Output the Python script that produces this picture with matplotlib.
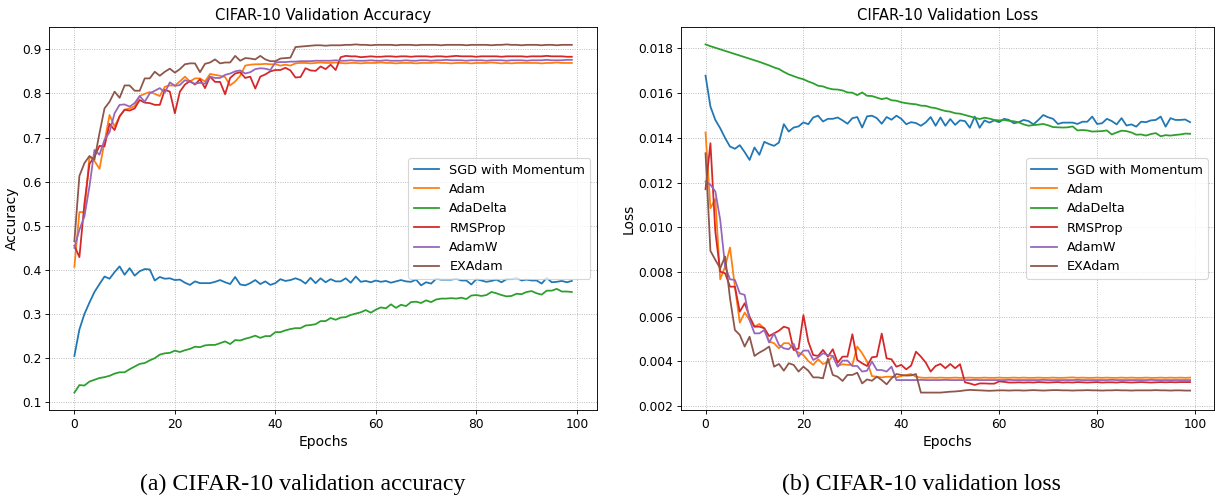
import matplotlib
matplotlib.use("Agg")
import matplotlib.pyplot as plt
import numpy as np

epochs = list(range(100))
labels = ["SGD with Momentum", "Adam", "AdaDelta", "RMSProp", "AdamW", "EXAdam"]

acc_sgd = [0.205, 0.265, 0.300, 0.326, 0.350, 0.368, 0.385, 0.380, 0.395, 0.408,
           0.389, 0.404, 0.387, 0.397, 0.402, 0.401, 0.376, 0.384, 0.380, 0.381,
           0.377, 0.378, 0.371, 0.366, 0.374, 0.370, 0.370, 0.370, 0.373, 0.377,
           0.372, 0.368, 0.384, 0.367, 0.365, 0.370, 0.377, 0.368, 0.374, 0.366,
           0.370, 0.379, 0.375, 0.377, 0.381, 0.377, 0.369, 0.382, 0.370, 0.381,
           0.372, 0.379, 0.374, 0.374, 0.381, 0.371, 0.385, 0.373, 0.375, 0.372,
           0.376, 0.373, 0.375, 0.371, 0.374, 0.377, 0.374, 0.373, 0.378, 0.365,
           0.372, 0.369, 0.380, 0.378, 0.378, 0.378, 0.380, 0.376, 0.376, 0.367,
           0.379, 0.376, 0.373, 0.375, 0.378, 0.372, 0.379, 0.379, 0.382, 0.376,
           0.378, 0.376, 0.376, 0.369, 0.382, 0.372, 0.373, 0.375, 0.372, 0.375]
acc_adam = [0.407, 0.531, 0.531, 0.657, 0.647, 0.629, 0.690, 0.751, 0.725, 0.748,
            0.763, 0.766, 0.771, 0.794, 0.799, 0.803, 0.799, 0.794, 0.815, 0.818,
            0.818, 0.827, 0.838, 0.827, 0.834, 0.834, 0.827, 0.844, 0.842, 0.840,
            0.837, 0.818, 0.827, 0.840, 0.863, 0.865, 0.866, 0.866, 0.867, 0.866,
            0.866, 0.863, 0.865, 0.863, 0.868, 0.869, 0.869, 0.868, 0.869, 0.870,
            0.869, 0.869, 0.870, 0.869, 0.868, 0.869, 0.869, 0.868, 0.869, 0.869,
            0.869, 0.870, 0.869, 0.869, 0.868, 0.869, 0.869, 0.869, 0.868, 0.869,
            0.869, 0.869, 0.870, 0.869, 0.869, 0.868, 0.869, 0.869, 0.869, 0.868,
            0.869, 0.869, 0.869, 0.870, 0.869, 0.868, 0.869, 0.868, 0.869, 0.869,
            0.869, 0.869, 0.869, 0.868, 0.869, 0.869, 0.870, 0.869, 0.869, 0.869]
acc_adadelta = [0.122, 0.139, 0.138, 0.147, 0.151, 0.155, 0.157, 0.160, 0.165, 0.168,
                0.168, 0.175, 0.181, 0.187, 0.189, 0.195, 0.200, 0.208, 0.211, 0.212,
                0.217, 0.214, 0.218, 0.221, 0.226, 0.225, 0.229, 0.230, 0.230, 0.234,
                0.238, 0.232, 0.241, 0.240, 0.244, 0.247, 0.251, 0.246, 0.250, 0.250,
                0.259, 0.259, 0.263, 0.266, 0.268, 0.268, 0.274, 0.275, 0.277, 0.284,
                0.284, 0.291, 0.287, 0.292, 0.293, 0.298, 0.301, 0.304, 0.309, 0.303,
                0.310, 0.315, 0.313, 0.322, 0.314, 0.321, 0.318, 0.327, 0.328, 0.325,
                0.331, 0.327, 0.333, 0.335, 0.335, 0.336, 0.335, 0.337, 0.334, 0.342,
                0.343, 0.341, 0.343, 0.350, 0.347, 0.343, 0.340, 0.341, 0.346, 0.345,
                0.350, 0.352, 0.347, 0.344, 0.353, 0.353, 0.357, 0.351, 0.351, 0.350]
acc_rmsprop = [0.455, 0.429, 0.550, 0.640, 0.657, 0.681, 0.680, 0.731, 0.717, 0.748,
               0.763, 0.761, 0.766, 0.785, 0.779, 0.778, 0.774, 0.774, 0.808, 0.804,
               0.755, 0.804, 0.820, 0.828, 0.820, 0.832, 0.812, 0.838, 0.826, 0.826,
               0.798, 0.835, 0.845, 0.848, 0.835, 0.838, 0.811, 0.838, 0.843, 0.850,
               0.853, 0.853, 0.858, 0.852, 0.836, 0.837, 0.857, 0.852, 0.851, 0.861,
               0.855, 0.865, 0.853, 0.882, 0.885, 0.884, 0.884, 0.882, 0.883, 0.884,
               0.883, 0.883, 0.884, 0.884, 0.883, 0.884, 0.884, 0.883, 0.884, 0.884,
               0.884, 0.883, 0.884, 0.884, 0.883, 0.884, 0.885, 0.884, 0.884, 0.884,
               0.883, 0.884, 0.884, 0.884, 0.884, 0.883, 0.884, 0.884, 0.884, 0.884,
               0.883, 0.884, 0.884, 0.884, 0.885, 0.884, 0.884, 0.884, 0.883, 0.883]
acc_adamw = [0.450, 0.491, 0.521, 0.589, 0.672, 0.661, 0.695, 0.712, 0.755, 0.774,
             0.775, 0.770, 0.778, 0.794, 0.781, 0.800, 0.806, 0.812, 0.802, 0.825,
             0.817, 0.819, 0.830, 0.826, 0.822, 0.824, 0.822, 0.838, 0.835, 0.835,
             0.842, 0.845, 0.850, 0.852, 0.845, 0.848, 0.855, 0.857, 0.856, 0.853,
             0.870, 0.871, 0.871, 0.872, 0.872, 0.873, 0.873, 0.873, 0.874, 0.874,
             0.874, 0.874, 0.875, 0.874, 0.874, 0.875, 0.874, 0.874, 0.874, 0.875,
             0.874, 0.874, 0.875, 0.874, 0.874, 0.874, 0.875, 0.874, 0.874, 0.875,
             0.875, 0.874, 0.875, 0.875, 0.876, 0.875, 0.875, 0.875, 0.874, 0.875,
             0.875, 0.875, 0.874, 0.875, 0.875, 0.875, 0.874, 0.875, 0.875, 0.875,
             0.874, 0.875, 0.875, 0.875, 0.876, 0.875, 0.875, 0.875, 0.876, 0.876]
acc_exadam = [0.465, 0.613, 0.642, 0.658, 0.650, 0.710, 0.766, 0.781, 0.804, 0.790,
              0.818, 0.818, 0.806, 0.806, 0.834, 0.834, 0.849, 0.840, 0.849, 0.856,
              0.847, 0.855, 0.866, 0.868, 0.868, 0.848, 0.867, 0.870, 0.877, 0.868,
              0.870, 0.870, 0.885, 0.874, 0.880, 0.879, 0.877, 0.885, 0.877, 0.873,
              0.873, 0.879, 0.880, 0.881, 0.905, 0.906, 0.907, 0.908, 0.909, 0.909,
              0.908, 0.909, 0.909, 0.909, 0.910, 0.910, 0.911, 0.910, 0.910, 0.909,
              0.910, 0.910, 0.910, 0.910, 0.909, 0.910, 0.910, 0.910, 0.909, 0.910,
              0.910, 0.910, 0.910, 0.909, 0.910, 0.910, 0.910, 0.910, 0.909, 0.910,
              0.910, 0.910, 0.910, 0.909, 0.910, 0.910, 0.911, 0.910, 0.910, 0.909,
              0.910, 0.910, 0.910, 0.909, 0.910, 0.910, 0.909, 0.910, 0.910, 0.910]

loss_sgd = [0.01678, 0.01540, 0.01480, 0.01443, 0.01399, 0.01361, 0.01351, 0.01367, 0.01336, 0.01301,
            0.01357, 0.01324, 0.01382, 0.01372, 0.01364, 0.01379, 0.01461, 0.01428, 0.01446, 0.01451,
            0.01469, 0.01461, 0.01491, 0.01499, 0.01473, 0.01485, 0.01485, 0.01491, 0.01478, 0.01463,
            0.01488, 0.01493, 0.01446, 0.01496, 0.01499, 0.01488, 0.01463, 0.01493, 0.01481, 0.01499,
            0.01485, 0.01461, 0.01470, 0.01466, 0.01454, 0.01469, 0.01493, 0.01454, 0.01491, 0.01454,
            0.01484, 0.01458, 0.01478, 0.01475, 0.01445, 0.01495, 0.01445, 0.01478, 0.01468, 0.01478,
            0.01470, 0.01485, 0.01480, 0.01465, 0.01470, 0.01480, 0.01475, 0.01460, 0.01480, 0.01502,
            0.01492, 0.01485, 0.01462, 0.01468, 0.01468, 0.01468, 0.01462, 0.01472, 0.01472, 0.01495,
            0.01462, 0.01465, 0.01485, 0.01475, 0.01460, 0.01488, 0.01455, 0.01460, 0.01450, 0.01472,
            0.01470, 0.01478, 0.01480, 0.01495, 0.01450, 0.01488, 0.01480, 0.01480, 0.01482, 0.01470]
loss_adam = [0.01424, 0.01085, 0.01127, 0.00767, 0.00824, 0.00909, 0.00734, 0.00573, 0.00618, 0.00585,
             0.00555, 0.00567, 0.00548, 0.00488, 0.00481, 0.00458, 0.00481, 0.00481, 0.00454, 0.00439,
             0.00428, 0.00401, 0.00384, 0.00409, 0.00388, 0.00397, 0.00424, 0.00379, 0.00387, 0.00384,
             0.00384, 0.00466, 0.00436, 0.00399, 0.00334, 0.00331, 0.00328, 0.00331, 0.00331, 0.00328,
             0.00334, 0.00339, 0.00343, 0.00331, 0.00327, 0.00326, 0.00327, 0.00326, 0.00327, 0.00326,
             0.00326, 0.00327, 0.00326, 0.00326, 0.00327, 0.00326, 0.00326, 0.00327, 0.00326, 0.00326,
             0.00327, 0.00326, 0.00326, 0.00327, 0.00326, 0.00327, 0.00326, 0.00326, 0.00327, 0.00326,
             0.00326, 0.00327, 0.00326, 0.00326, 0.00327, 0.00328, 0.00326, 0.00327, 0.00326, 0.00326,
             0.00327, 0.00326, 0.00327, 0.00326, 0.00326, 0.00327, 0.00326, 0.00327, 0.00326, 0.00326,
             0.00327, 0.00326, 0.00326, 0.00327, 0.00326, 0.00327, 0.00326, 0.00327, 0.00326, 0.00327]
loss_adadelta = [0.01818, 0.01810, 0.01803, 0.01796, 0.01789, 0.01782, 0.01775, 0.01768, 0.01761, 0.01754,
                 0.01747, 0.01740, 0.01732, 0.01724, 0.01715, 0.01708, 0.01695, 0.01684, 0.01676, 0.01668,
                 0.01662, 0.01652, 0.01644, 0.01633, 0.01630, 0.01622, 0.01617, 0.01616, 0.01612, 0.01603,
                 0.01602, 0.01591, 0.01603, 0.01588, 0.01587, 0.01580, 0.01573, 0.01578, 0.01568, 0.01566,
                 0.01559, 0.01555, 0.01552, 0.01550, 0.01544, 0.01543, 0.01536, 0.01533, 0.01526, 0.01520,
                 0.01517, 0.01510, 0.01508, 0.01502, 0.01496, 0.01490, 0.01484, 0.01490, 0.01486, 0.01480,
                 0.01478, 0.01480, 0.01476, 0.01474, 0.01469, 0.01460, 0.01454, 0.01457, 0.01459, 0.01462,
                 0.01456, 0.01448, 0.01447, 0.01446, 0.01447, 0.01451, 0.01433, 0.01435, 0.01433, 0.01428,
                 0.01429, 0.01430, 0.01433, 0.01415, 0.01424, 0.01432, 0.01430, 0.01424, 0.01414, 0.01415,
                 0.01410, 0.01417, 0.01421, 0.01407, 0.01412, 0.01410, 0.01413, 0.01415, 0.01419, 0.01418]
loss_rmsprop = [0.01170, 0.01376, 0.00980, 0.00801, 0.00794, 0.00734, 0.00734, 0.00622, 0.00660, 0.00600,
                0.00555, 0.00555, 0.00548, 0.00513, 0.00525, 0.00537, 0.00555, 0.00548, 0.00451, 0.00457,
                0.00607, 0.00488, 0.00428, 0.00424, 0.00451, 0.00421, 0.00454, 0.00394, 0.00421, 0.00421,
                0.00521, 0.00406, 0.00391, 0.00379, 0.00418, 0.00421, 0.00524, 0.00413, 0.00409, 0.00376,
                0.00384, 0.00364, 0.00381, 0.00443, 0.00421, 0.00394, 0.00354, 0.00379, 0.00388, 0.00369,
                0.00388, 0.00369, 0.00387, 0.00306, 0.00301, 0.00294, 0.00301, 0.00301, 0.00300, 0.00300,
                0.00310, 0.00308, 0.00305, 0.00305, 0.00306, 0.00305, 0.00306, 0.00305, 0.00307, 0.00306,
                0.00305, 0.00306, 0.00307, 0.00305, 0.00306, 0.00305, 0.00307, 0.00306, 0.00305, 0.00306,
                0.00307, 0.00305, 0.00306, 0.00306, 0.00305, 0.00307, 0.00306, 0.00305, 0.00306, 0.00307,
                0.00306, 0.00305, 0.00306, 0.00307, 0.00306, 0.00307, 0.00306, 0.00307, 0.00307, 0.00307]
loss_adamw = [0.01204, 0.01190, 0.01160, 0.01033, 0.00824, 0.00767, 0.00764, 0.00704, 0.00697, 0.00585,
              0.00525, 0.00525, 0.00540, 0.00484, 0.00525, 0.00473, 0.00458, 0.00454, 0.00478, 0.00421,
              0.00448, 0.00448, 0.00406, 0.00418, 0.00436, 0.00428, 0.00424, 0.00376, 0.00403, 0.00403,
              0.00379, 0.00379, 0.00354, 0.00358, 0.00399, 0.00361, 0.00361, 0.00354, 0.00376, 0.00316,
              0.00316, 0.00316, 0.00316, 0.00316, 0.00317, 0.00316, 0.00316, 0.00316, 0.00316, 0.00317,
              0.00316, 0.00316, 0.00316, 0.00316, 0.00316, 0.00317, 0.00316, 0.00316, 0.00316, 0.00316,
              0.00316, 0.00316, 0.00317, 0.00316, 0.00316, 0.00316, 0.00316, 0.00316, 0.00316, 0.00317,
              0.00316, 0.00316, 0.00316, 0.00316, 0.00316, 0.00316, 0.00317, 0.00316, 0.00316, 0.00316,
              0.00316, 0.00316, 0.00316, 0.00317, 0.00316, 0.00316, 0.00316, 0.00316, 0.00316, 0.00316,
              0.00316, 0.00317, 0.00316, 0.00316, 0.00316, 0.00316, 0.00316, 0.00316, 0.00316, 0.00316]
loss_exadam = [0.01331, 0.00894, 0.00854, 0.00816, 0.00869, 0.00682, 0.00540, 0.00518, 0.00466, 0.00510,
               0.00424, 0.00439, 0.00451, 0.00466, 0.00376, 0.00388, 0.00358, 0.00391, 0.00384, 0.00354,
               0.00376, 0.00358, 0.00328, 0.00328, 0.00324, 0.00412, 0.00339, 0.00331, 0.00312, 0.00339,
               0.00339, 0.00349, 0.00301, 0.00319, 0.00313, 0.00331, 0.00316, 0.00297, 0.00324, 0.00343,
               0.00339, 0.00336, 0.00337, 0.00343, 0.00260, 0.00260, 0.00260, 0.00260, 0.00260, 0.00262,
               0.00264, 0.00265, 0.00267, 0.00270, 0.00272, 0.00271, 0.00270, 0.00269, 0.00268, 0.00269,
               0.00270, 0.00270, 0.00269, 0.00270, 0.00270, 0.00269, 0.00270, 0.00271, 0.00270, 0.00269,
               0.00270, 0.00271, 0.00271, 0.00270, 0.00270, 0.00269, 0.00270, 0.00270, 0.00271, 0.00270,
               0.00270, 0.00269, 0.00270, 0.00270, 0.00271, 0.00270, 0.00270, 0.00269, 0.00270, 0.00270,
               0.00270, 0.00270, 0.00271, 0.00270, 0.00270, 0.00269, 0.00270, 0.00270, 0.00269, 0.00269]

acc_series = [acc_sgd, acc_adam, acc_adadelta, acc_rmsprop, acc_adamw, acc_exadam]
loss_series = [loss_sgd, loss_adam, loss_adadelta, loss_rmsprop, loss_adamw, loss_exadam]

plt.rcParams["font.size"] = 11.2

fig = plt.figure(figsize=(15.3, 6.225), dpi=80)
ax1 = fig.add_axes([0.04044, 0.17671, 0.44706, 0.76908])
ax2 = fig.add_axes([0.55662, 0.17671, 0.43546, 0.76908])

for ax, series, title, ylabel in [
    (ax1, acc_series, "CIFAR-10 Validation Accuracy", "Accuracy"),
    (ax2, loss_series, "CIFAR-10 Validation Loss", "Loss"),
]:
    for s, lab in zip(series, labels):
        ax.plot(epochs, s, label=lab, linewidth=1.6)
    ax.set_title(title, fontsize=13.3)
    ax.set_xlabel("Epochs", fontsize=12.5)
    ax.set_ylabel(ylabel, fontsize=12.5, labelpad=3)
    ax.tick_params(labelsize=11)
    ax.grid(True, linestyle=":", color="#b0b0b0", linewidth=0.8)
    ax.legend(loc="center right", fontsize=11.5)

fig.text(303 / 1224, 1 - 484 / 498, "(a) CIFAR-10 validation accuracy",
         family="Liberation Serif", fontsize=21.5, ha="center", va="center")
fig.text(921 / 1224, 1 - 484 / 498, "(b) CIFAR-10 validation loss",
         family="Liberation Serif", fontsize=21.5, ha="center", va="center")

fig.savefig("out.png", dpi=80)
